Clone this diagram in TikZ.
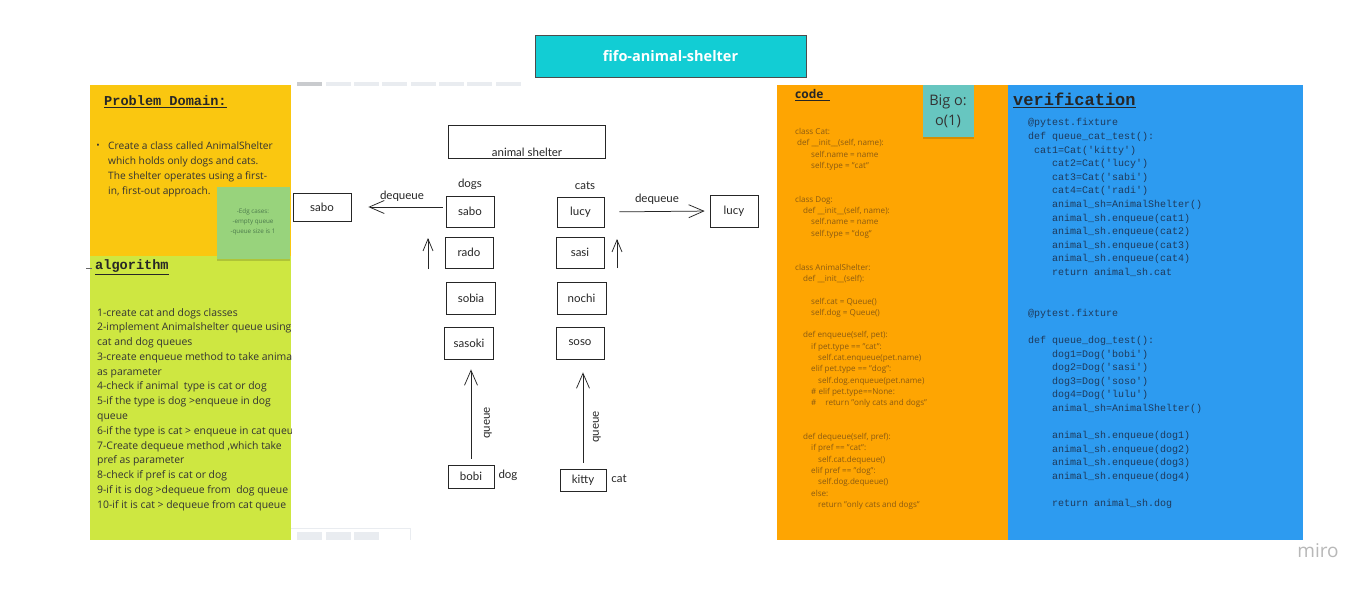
\documentclass[tikz,border=0pt]{standalone}
\usepackage{fontspec}
\setmainfont{Open Sans}
\newfontfamily\monof{Liberation Mono}
\newfontfamily\skf{Lato}
\usetikzlibrary{arrows.meta,shadows}
\definecolor{pdyellow}{HTML}{FAC710}
\definecolor{alglime}{HTML}{CEE741}
\definecolor{codeorange}{HTML}{FEA502}
\definecolor{verblue}{HTML}{2D9BF0}
\definecolor{titlecyan}{HTML}{12CDD4}
\definecolor{stickgreen}{HTML}{98D37C}
\definecolor{stickteal}{HTML}{67C6C0}
\definecolor{codetxt}{HTML}{8A5A12}
\definecolor{vertxt}{HTML}{1E3A5C}
\definecolor{tabgray}{HTML}{E9ECF0}
\definecolor{inkc}{HTML}{262626}
\begin{document}
\begin{tikzpicture}[x=1pt,y=-1pt,
  skbox/.style={draw=inkc, line width=0.75pt, inner sep=0pt, text=inkc,
    font=\skf\fontsize{11.5}{13}\selectfont},
  sktext/.style={inner sep=0pt, text=inkc, font=\skf\fontsize{11.5}{13}\selectfont},
  skarr/.style={draw=inkc, line width=0.75pt, -{Straight Barb[length=15pt,width=13pt,line width=0.75pt]}},
  skarrs/.style={draw=inkc, line width=0.75pt, -{Straight Barb[length=12pt,width=10pt,line width=0.75pt]}},
  sticky/.style={inner sep=0pt, drop shadow={shadow xshift=0pt, shadow yshift=-2pt, opacity=0.15, fill=black}},
  headmono/.style={inner sep=0pt, anchor=west, text=black!85, font=\monof\bfseries\fontsize{13.6}{16}\selectfont},
]
\useasboundingbox (0,0) rectangle (1371,590);
\fill[white] (0,0) rectangle (1371,590);

% panels
\fill[pdyellow] (90,85) rectangle (291,256);
\fill[alglime] (90,256) rectangle (291,540);
\fill[codeorange] (777,85) rectangle (1008,540);
\fill[verblue] (1008,85) rectangle (1303,540);

% title
\node[fill=titlecyan, draw=black!70, line width=0.6pt, minimum width=271pt, minimum height=42pt,
  text=white, font=\bfseries\fontsize{14.5}{16}\selectfont] (title) at (670.5,56) {fifo-animal-shelter};

% problem domain
\node[headmono] (pdtitle) at (104,102) {\underline{Problem Domain:}};
\node[inner sep=0pt, text=black!80, font=\fontsize{9}{10}\selectfont] (pdbullet) at (98,146) {•};
\node[anchor=north west, inner sep=0pt, align=left, text=black!80, font=\fontsize{10.2}{14.7}\selectfont]
  (pdtext) at (108,142) {Create a class called AnimalShelter\\which holds only dogs and cats.\\The shelter operates using a first-\\in, first-out approach.};

% algorithm
\draw[black!60, line width=0.6pt] (86,268) -- (92,268);
\node[headmono] (algtitle) at (95,267) {\underline{algorithm}};
\begin{scope}
\clip (90,256) rectangle (291,540);
\node[anchor=north west, inner sep=0pt, align=left, text=black!80, font=\fontsize{10.4}{14.77}\selectfont]
  (algtext) at (97,308) {1-create cat and dogs classes\\
2-implement Animalshelter queue using\\
cat and dog queues\\
3-create enqueue method to take animal\\
as parameter\\
4-check if animal\ \ type is cat or dog\\
5-if the type is dog >enqueue in dog\\
queue\\
6-if the type is cat > enqueue in cat queue\\
7-Create dequeue method ,which take\\
pref as parameter\\
8-check if pref is cat or dog\\
9-if it is dog >dequeue from\ \ dog queue\\
10-if it is cat > dequeue from cat queue};
\end{scope}

% edge cases sticky
\node[sticky, fill=stickgreen, minimum width=73pt, minimum height=72pt] (edge) at (253,223) {};
\node[inner sep=0pt, align=center, text=black!55!green!40!gray, font=\fontsize{6.3}{10}\selectfont]
  (edgetext) at (253,222) {-Edg cases:\\-empty queue\\-queue size is 1};

% sketch area UI placeholders
\fill[tabgray!70!gray] (297,82) rectangle ++(25,4);
\foreach \x in {326,354,382,411,439,467,496} \fill[tabgray] (\x,82) rectangle ++(25,4);
\draw[tabgray, line width=0.6pt] (291,528) -- (410,528) -- (410,540);
\foreach \x in {297,326,354} \fill[tabgray] (\x,532) rectangle ++(25,8);

% sketch: shelter
\node[skbox, minimum width=157pt, minimum height=33pt,
  label={[sktext, anchor=south, yshift=2pt]south:animal shelter}] (shelter) at (527,141.5) {};
\node[sktext] (dogs) at (470,184) {dogs};
\node[sktext] (cats) at (585,186) {cats};

% dog queue
\node[skbox, minimum width=48pt, minimum height=31pt] (sabo) at (470,211.5) {sabo};
\node[skbox, minimum width=48pt, minimum height=31pt] (rado) at (469,252.5) {rado};
\node[skbox, minimum width=49pt, minimum height=32pt] (sobia) at (471,298) {sobia};
\node[skbox, minimum width=49pt, minimum height=32pt] (sasoki) at (469,343) {sasoki};
\node[skbox, minimum width=46pt, minimum height=23pt] (bobi) at (471,476.5) {bobi};
\node[sktext] (doglbl) at (508,475) {dog};
\node[skbox, minimum width=58pt, minimum height=28pt] (sabout) at (322,207) {sabo};

% cat queue
\node[skbox, minimum width=47pt, minimum height=30pt] (lucy) at (580.5,212) {lucy};
\node[skbox, minimum width=48pt, minimum height=31pt] (sasi) at (580,252.5) {sasi};
\node[skbox, minimum width=49pt, minimum height=32pt] (nochi) at (581.5,298) {nochi};
\node[skbox, minimum width=48pt, minimum height=32pt] (soso) at (580,343) {soso};
\node[skbox, minimum width=46pt, minimum height=22pt] (kitty) at (583,480) {kitty};
\node[sktext] (catlbl) at (619,479) {cat};
\node[skbox, minimum width=48pt, minimum height=32pt] (lucyout) at (734,211) {lucy};

% dequeue arrows
\draw[skarr, shorten <=3pt, shorten >=17pt] (sabo.west |- sabout.east) -- (sabout.east);
\node[sktext] (deqdog) at (402,196) {dequeue};
\draw[skarr, shorten <=15pt, shorten >=5pt] (lucy.east) -- (lucyout.west);
\node[sktext] (deqcat) at (657,199) {dequeue};

% enqueue arrows
\draw[skarr, shorten <=6pt, shorten >=10pt] (bobi.north) -- (bobi.north |- sasoki.south);
\node[sktext, rotate=90] (qdog) at (488,423) {queue};
\draw[skarr, shorten <=6pt, shorten >=13pt] (kitty.north) -- (kitty.north |- soso.south);
\node[sktext, rotate=90] (qcat) at (597,427) {queue};

% small up arrows
\coordinate (ra1) at (428,269);
\coordinate (ra2) at (428,238);
\draw[skarrs] (ra1) -- (ra2);
\coordinate (ca1) at (617,268);
\coordinate (ca2) at (617,239);
\draw[skarrs] (ca1) -- (ca2);

% code panel
\node[anchor=west, inner sep=0pt, text=black!85, font=\bfseries\fontsize{12}{14}\selectfont] (codetitle) at (795,95) {\underline{code\ \ }};
\node[anchor=north west, inner sep=0pt, align=left, text=codetxt, font=\fontsize{8.1}{11.3}\selectfont]
  (code) at (795,128.2) {class Cat:\\
\hspace*{2pt}def \_\_init\_\_(self, name):\\
\hspace*{16pt}self.name = name\\
\hspace*{16pt}self.type = "cat"\\
\mbox{}\\
\mbox{}\\
class Dog:\\
\hspace*{8pt}def \_\_init\_\_(self, name):\\
\hspace*{16pt}self.name = name\\
\hspace*{16pt}self.type = "dog"\\
\mbox{}\\
\mbox{}\\
class AnimalShelter:\\
\hspace*{8pt}def \_\_init\_\_(self):\\
\mbox{}\\
\hspace*{16pt}self.cat = Queue()\\
\hspace*{16pt}self.dog = Queue()\\
\mbox{}\\
\hspace*{8pt}def enqueue(self, pet):\\
\hspace*{16pt}if pet.type == "cat":\\
\hspace*{23pt}self.cat.enqueue(pet.name)\\
\hspace*{16pt}elif pet.type == "dog":\\
\hspace*{23pt}self.dog.enqueue(pet.name)\\
\hspace*{16pt}\# elif pet.type==None:\\
\hspace*{16pt}\#\hspace*{9pt}return "only cats and dogs"\\
\mbox{}\\
\mbox{}\\
\hspace*{8pt}def dequeue(self, pref):\\
\hspace*{16pt}if pref == "cat":\\
\hspace*{23pt}self.cat.dequeue()\\
\hspace*{16pt}elif pref == "dog":\\
\hspace*{23pt}self.dog.dequeue()\\
\hspace*{16pt}else:\\
\hspace*{23pt}return "only cats and dogs"};

% big o sticky
\node[sticky, fill=stickteal, minimum width=51pt, minimum height=52pt] (bigo) at (948,110.5) {};
\node[inner sep=0pt, align=center, text=black!80, font=\fontsize{14.5}{20}\selectfont] (bigotext) at (948,111) {Big o:\\o(1)};

% verification panel
\node[inner sep=0pt, anchor=west, text=black!85, font=\monof\bfseries\fontsize{17}{20}\selectfont] (vertitle) at (1013,100) {\underline{verification}};
\node[anchor=north west, inner sep=0pt, align=left, text=vertxt, font=\monof\fontsize{10}{13.6}\selectfont]
  (vercode) at (1028,118.5) {@pytest.fixture\\
def queue\_cat\_test():\\
\hspace*{6pt}cat1=Cat('kitty')\\
\hspace*{24pt}cat2=Cat('lucy')\\
\hspace*{24pt}cat3=Cat('sabi')\\
\hspace*{24pt}cat4=Cat('radi')\\
\hspace*{24pt}animal\_sh=AnimalShelter()\\
\hspace*{24pt}animal\_sh.enqueue(cat1)\\
\hspace*{24pt}animal\_sh.enqueue(cat2)\\
\hspace*{24pt}animal\_sh.enqueue(cat3)\\
\hspace*{24pt}animal\_sh.enqueue(cat4)\\
\hspace*{24pt}return animal\_sh.cat\\
\mbox{}\\
\mbox{}\\
@pytest.fixture\\
\mbox{}\\
def queue\_dog\_test():\\
\hspace*{24pt}dog1=Dog('bobi')\\
\hspace*{24pt}dog2=Dog('sasi')\\
\hspace*{24pt}dog3=Dog('soso')\\
\hspace*{24pt}dog4=Dog('lulu')\\
\hspace*{24pt}animal\_sh=AnimalShelter()\\
\mbox{}\\
\hspace*{24pt}animal\_sh.enqueue(dog1)\\
\hspace*{24pt}animal\_sh.enqueue(dog2)\\
\hspace*{24pt}animal\_sh.enqueue(dog3)\\
\hspace*{24pt}animal\_sh.enqueue(dog4)\\
\mbox{}\\
\hspace*{24pt}return animal\_sh.dog};

% miro logo
\node[inner sep=0pt, text=black!28, font=\fontsize{19}{20}\selectfont] (miro) at (1318,551) {miro};
\end{tikzpicture}
\end{document}
